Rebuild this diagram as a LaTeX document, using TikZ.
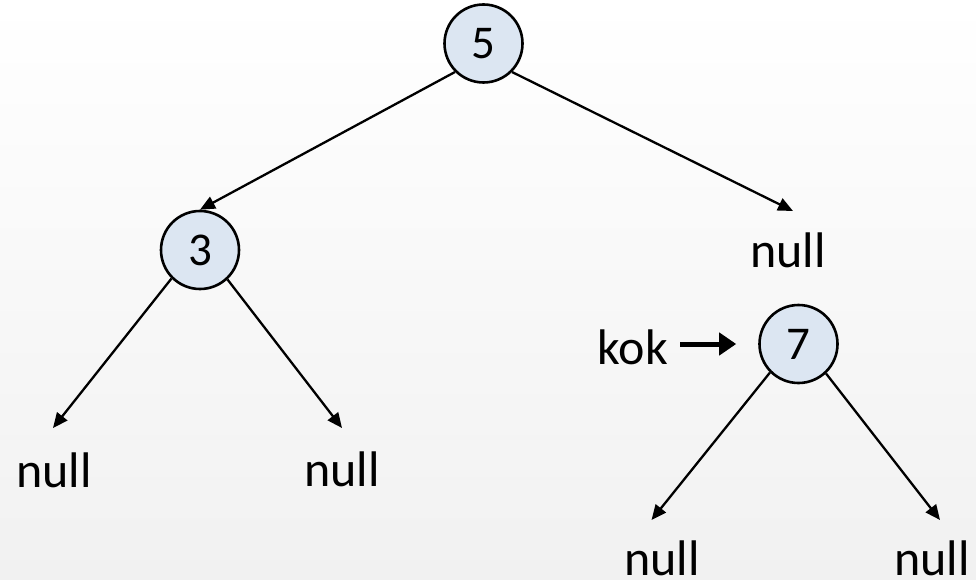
\documentclass[tikz,border=0pt]{standalone}
\usepackage{fontspec}
\setmainfont{Carlito}
\usetikzlibrary{arrows.meta}
\definecolor{nodefill}{RGB}{220,230,242}
\definecolor{bgbottom}{RGB}{241,241,241}
\tikzset{
  treenode/.style={circle, draw=black, line width=2.6pt, fill=nodefill, minimum size=78pt, inner sep=0pt, font=\fontsize{47}{47}\selectfont},
  nulltext/.style={inner sep=0pt, anchor=base, font=\fontsize{50}{50}\selectfont},
  edge/.style={line width=2.3pt, -{Triangle[length=15pt,width=13pt]}},
  kokarrow/.style={line width=5pt, -{Triangle[length=17pt,width=22pt]}}
}
\begin{document}
\begin{tikzpicture}[x=1pt,y=-1pt]
\useasboundingbox (0,0) rectangle (976,580);
\shade[top color=white, bottom color=bgbottom] (0,0) rectangle (976,580);
% tree nodes
\node[treenode] (n5) at (483.5,43.5) {5};
\node[treenode] (n3) at (200,250) {3};
\node[treenode] (n7) at (798.5,344) {7};
% null labels
\node[nulltext] (nullR)  at (788,267) {null};
\node[nulltext] (nullLL) at (54,487.5) {null};
\node[nulltext] (nullLR) at (342,486.5) {null};
\node[nulltext] (null7L) at (662,575) {null};
\node[nulltext] (null7R) at (932,575) {null};
\node[nulltext, anchor=base east] (kok) at (668,364) {kok};
% arrow tip coordinates above the null labels
\coordinate (tR)  at (793,211);
\coordinate (tLL) at (53,428);
\coordinate (tLR) at (342,428);
\coordinate (t7L) at (651.5,520);
\coordinate (t7R) at (940,520);
% connectors
\draw[edge] (n5.225) -- (n3.north);
\draw[edge] (n5.-45) -- (tR);
\draw[edge] (n3.225) -- (tLL);
\draw[edge] (n3.-47) -- (tLR);
\draw[edge] (n7.225) -- (t7L);
\draw[edge] (n7.-47) -- (t7R);
\draw[kokarrow, shorten <=12pt, shorten >=22pt] (kok.east |- n7.west) -- (n7.west);
\end{tikzpicture}
\end{document}
